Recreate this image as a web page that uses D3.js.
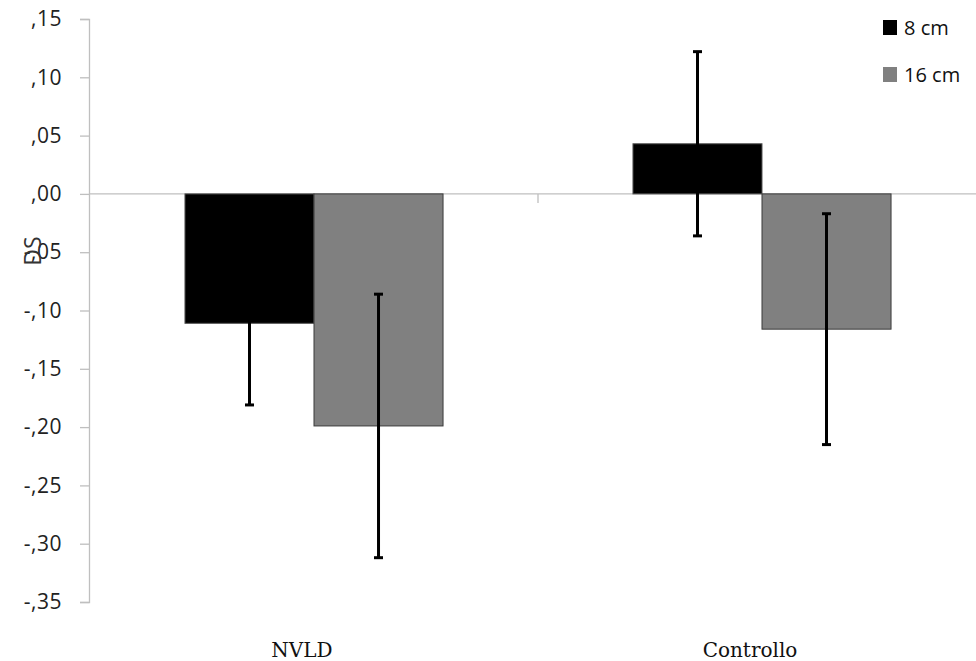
<!DOCTYPE html>
<html>
<head>
<meta charset="utf-8">
<script src="https://cdn.jsdelivr.net/npm/d3@7"></script>
<style>
  body { margin: 0; background: #fff; }
  svg { display: block; }
</style>
</head>
<body>
<svg id="chart" width="976" height="661"></svg>
<script>
const categories = ["NVLD", "Controllo"];
const seriesNames = ["8 cm", "16 cm"];
const seriesColors = ["#000000", "#808080"];
const values8 = [-0.111, 0.043];
const values16 = [-0.199, -0.116];
const errors8 = [0.070, 0.079];
const errors16 = [0.113, 0.099];
const yTicks = [0.15, 0.10, 0.05, 0.00, -0.05, -0.10, -0.15, -0.20, -0.25, -0.30, -0.35];
const yTickLabels = [",15", ",10", ",05", ",00", "-,05", "-,10", "-,15", "-,20", "-,25", "-,30", "-,35"];
const yLabel = "DS";

const svg = d3.select("#chart");
const axisX = 89;

const y = d3.scaleLinear().domain([-0.35, 0.15]).range([602, 19]);
const x0 = d3.scaleBand().domain(categories).range([90, 986]).padding(0);
const x1 = d3.scaleBand().domain(seriesNames).range([0, x0.bandwidth()]).paddingInner(0).paddingOuter(0.736);

const data = categories.map((c, i) => ({
  cat: c,
  items: [
    { s: seriesNames[0], v: values8[i], e: errors8[i], color: seriesColors[0] },
    { s: seriesNames[1], v: values16[i], e: errors16[i], color: seriesColors[1] }
  ]
}));

// Y axis
const yAxis = d3.axisLeft(y).tickValues(yTicks).tickSize(9).tickPadding(18)
  .tickFormat((d, i) => yTickLabels[i]);
const gy = svg.append("g").attr("transform", `translate(${axisX},0)`).call(yAxis);
gy.select(".domain").attr("stroke", "#bfbfbf").attr("stroke-width", 1.3);
gy.selectAll(".tick line").attr("stroke", "#bfbfbf").attr("stroke-width", 1.3);
gy.selectAll(".tick text").attr("fill", "#222")
  .style("font-family", "'Open Sans', sans-serif").style("font-size", "21px")
  .style("letter-spacing", "0.5px");

// Zero line (category axis)
svg.append("line").attr("x1", axisX).attr("x2", 976).attr("y1", y(0)).attr("y2", y(0))
  .attr("stroke", "#bfbfbf").attr("stroke-width", 1.3);
// category divider tick
svg.append("line").attr("x1", x0(categories[1])).attr("x2", x0(categories[1]))
  .attr("y1", y(0)).attr("y2", y(0) + 9).attr("stroke", "#bfbfbf").attr("stroke-width", 1.3);

// Bars
const groups = svg.append("g").selectAll("g").data(data).join("g")
  .attr("transform", d => `translate(${x0(d.cat)},0)`);

groups.selectAll("rect").data(d => d.items).join("rect")
  .attr("x", d => x1(d.s))
  .attr("width", x1.bandwidth())
  .attr("y", d => y(Math.max(0, d.v)))
  .attr("height", d => Math.abs(y(d.v) - y(0)))
  .attr("fill", d => d.color)
  .attr("stroke", d => d.color === "#000000" ? "#555" : "#3a3a3a")
  .attr("stroke-width", 1);

// Error bars
const eb = groups.selectAll("g.err").data(d => d.items).join("g").attr("class", "err");
eb.append("line")
  .attr("x1", d => x1(d.s) + x1.bandwidth() / 2)
  .attr("x2", d => x1(d.s) + x1.bandwidth() / 2)
  .attr("y1", d => y(d.v + d.e))
  .attr("y2", d => y(d.v - d.e))
  .attr("stroke", "#000").attr("stroke-width", 3);
[1, -1].forEach(sign => {
  eb.append("line")
    .attr("x1", d => x1(d.s) + x1.bandwidth() / 2 - 4.5)
    .attr("x2", d => x1(d.s) + x1.bandwidth() / 2 + 4.5)
    .attr("y1", d => y(d.v + sign * d.e))
    .attr("y2", d => y(d.v + sign * d.e))
    .attr("stroke", "#000").attr("stroke-width", 3);
});

// Category labels
svg.append("g").selectAll("text").data(categories).join("text")
  .attr("x", d => x0(d) + x0.bandwidth() / 2 - 12)
  .attr("y", 657)
  .attr("text-anchor", "middle")
  .attr("fill", "#111")
  .style("font-family", "'DejaVu Serif', serif")
  .style("font-size", "20px")
  .text(d => d);

// Y label
svg.append("text")
  .attr("transform", `translate(41,251) rotate(-90)`)
  .attr("text-anchor", "middle")
  .attr("fill", "#333")
  .style("font-family", "'Open Sans', sans-serif")
  .style("font-size", "23px")
  .text(yLabel);

// Legend
const legend = svg.append("g").selectAll("g").data(seriesNames).join("g")
  .attr("transform", (d, i) => `translate(883,${20 + i * 47})`);
legend.append("rect").attr("width", 14).attr("height", 15)
  .attr("fill", (d, i) => seriesColors[i]);
legend.append("text").attr("x", 21).attr("y", 15)
  .attr("fill", "#111")
  .style("font-family", "'Open Sans', sans-serif")
  .style("font-size", "20px")
  .text(d => d);
</script>
</body>
</html>
